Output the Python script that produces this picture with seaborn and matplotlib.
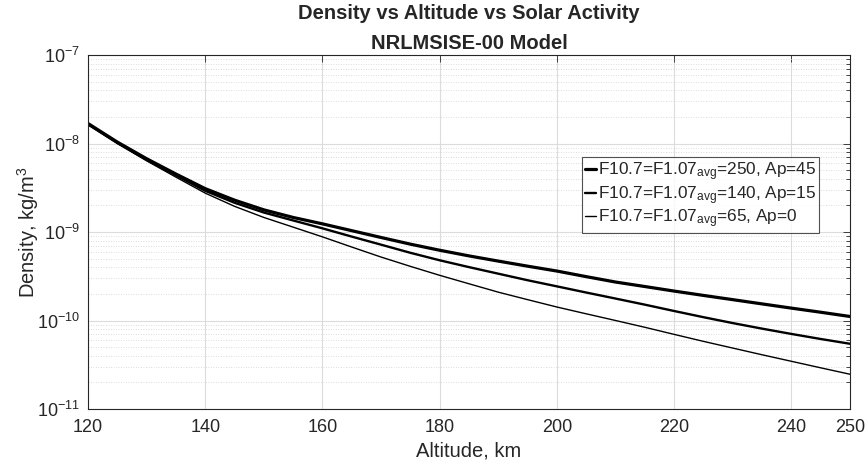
import numpy as np
import pandas as pd
import matplotlib
matplotlib.use("Agg")
import matplotlib.pyplot as plt
import seaborn as sns
from matplotlib.ticker import LogLocator, NullFormatter, FixedLocator, FuncFormatter

altitude = [120, 125, 130, 135, 140, 145, 150, 155, 160, 165, 170, 175, 180, 185, 190,
            195, 200, 205, 210, 215, 220, 225, 230, 235, 240, 245, 250]
rho_high = [1.683e-8, 1.038e-8, 6.73e-9, 4.52e-9, 3.09e-9, 2.29e-9, 1.78e-9, 1.46e-9, 1.236e-9,
            1.035e-9, 8.67e-10, 7.29e-10, 6.22e-10, 5.37e-10, 4.69e-10, 4.11e-10, 3.62e-10,
            3.13e-10, 2.72e-10, 2.42e-10, 2.15e-10, 1.92e-10, 1.72e-10, 1.54e-10, 1.38e-10,
            1.24e-10, 1.11e-10]
rho_mid = [1.66e-8, 1.016e-8, 6.53e-9, 4.37e-9, 2.92e-9, 2.14e-9, 1.66e-9, 1.35e-9, 1.10e-9,
           8.87e-10, 7.19e-10, 5.82e-10, 4.79e-10, 4.01e-10, 3.38e-10, 2.85e-10, 2.43e-10,
           2.07e-10, 1.77e-10, 1.51e-10, 1.28e-10, 1.09e-10, 9.35e-11, 8.09e-11, 7.05e-11,
           6.18e-11, 5.46e-11]
rho_low = [1.62e-8, 1.0e-8, 6.38e-9, 4.17e-9, 2.75e-9, 1.95e-9, 1.46e-9, 1.135e-9, 8.81e-10,
           6.76e-10, 5.21e-10, 4.09e-10, 3.24e-10, 2.60e-10, 2.09e-10, 1.72e-10, 1.42e-10,
           1.19e-10, 1.0e-10, 8.38e-11, 6.97e-11, 5.81e-11, 4.88e-11, 4.10e-11, 3.46e-11,
           2.92e-11, 2.47e-11]
labels = ["F10.7=F1.07$_{\\mathregular{avg}}$=250, Ap=45",
          "F10.7=F1.07$_{\\mathregular{avg}}$=140, Ap=15",
          "F10.7=F1.07$_{\\mathregular{avg}}$=65, Ap=0"]
x_ticks = [120, 140, 160, 180, 200, 220, 240, 250]

sns.set_style("white")
plt.rcParams['font.family'] = ['Liberation Sans', 'DejaVu Sans']
plt.rcParams['mathtext.fontset'] = 'custom'
plt.rcParams['mathtext.rm'] = 'Liberation Sans'
plt.rcParams['mathtext.it'] = 'Liberation Sans:italic'
plt.rcParams['mathtext.bf'] = 'Liberation Sans:bold'
plt.rcParams['axes.unicode_minus'] = False

fig = plt.figure(figsize=(8.66, 4.68), dpi=100)
ax = fig.add_axes([88/866, 1-409/468, (850-88)/866, (409-55)/468])

widths = [2.3, 1.7, 1.0]
for vals, lab, lw in zip([rho_high, rho_mid, rho_low], labels, widths):
    df = pd.DataFrame({"alt": altitude, "rho": vals})
    sns.lineplot(data=df, x="alt", y="rho", ax=ax, color="black", linewidth=lw, label=lab,
                 solid_joinstyle="round")

ax.set_yscale("log")
ax.set_xlim(120, 250)
ax.set_ylim(1e-11, 1e-7)
ax.xaxis.set_major_locator(FixedLocator(x_ticks))
ax.yaxis.set_major_locator(LogLocator(base=10, numticks=10))
ax.yaxis.set_major_formatter(FuncFormatter(
    lambda v, p: "$\\mathregular{10^{%d}}$" % int(round(np.log10(v)))))
ax.yaxis.set_minor_locator(LogLocator(base=10, subs=np.arange(2, 10), numticks=20))
ax.yaxis.set_minor_formatter(NullFormatter())

ax.grid(True, which="major", color="#dcdcdc", linewidth=0.8, linestyle="-")
ax.grid(True, which="minor", axis="y", color="#d0d0d0", linewidth=0.6, linestyle=(0, (1, 2)))
ax.set_axisbelow(True)

for s in ax.spines.values():
    s.set_color("#262626")
    s.set_linewidth(0.8)
ax.tick_params(which="both", direction="in", top=True, right=True, colors="#262626",
               labelcolor="#262626", labelsize=13)
ax.tick_params(which="major", length=5, width=0.6)
ax.tick_params(axis="x", which="major", pad=7)
ax.tick_params(axis="y", which="major", pad=6)
ax.tick_params(which="minor", length=3, width=0.6)

ax.set_xlabel("Altitude, km", fontsize=14.5, color="#262626", labelpad=4)
ax.set_ylabel("Density, kg/m$^{\\mathregular{3}}$", fontsize=14.5, color="#262626")
ax.yaxis.set_label_coords((41 - 88) / 762, 0.5)
ax.set_title("Density vs Altitude vs Solar Activity\nNRLMSISE-00 Model", fontsize=14.5,
             fontweight="bold", pad=4, linespacing=1.75)

leg = ax.legend(loc="upper left", bbox_to_anchor=((582-88)/762, (409-157)/354),
                fontsize=12.4, frameon=True, fancybox=False, handlelength=0.6,
                handletextpad=0.1, borderpad=0.2, labelspacing=0.05, borderaxespad=0)
leg.get_frame().set_edgecolor("#262626")
leg.get_frame().set_linewidth(0.8)

fig.savefig("out.png", dpi=100)
